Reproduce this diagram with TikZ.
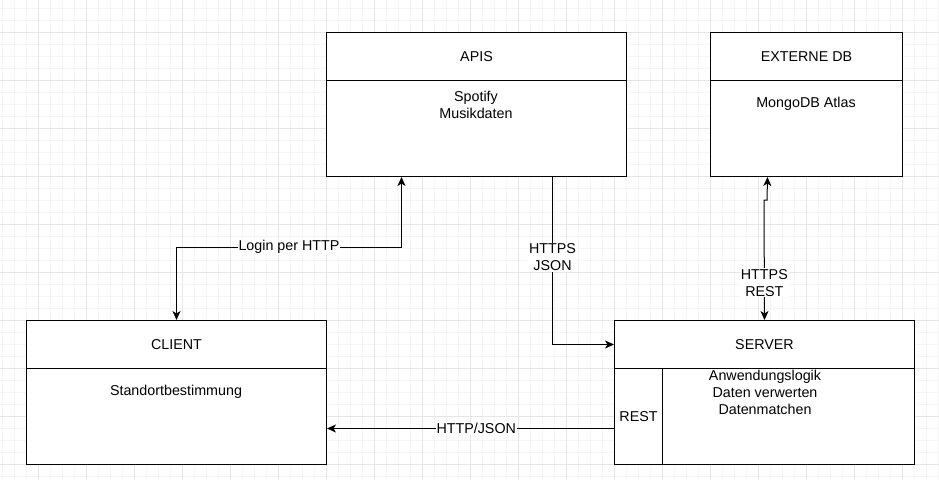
\documentclass[tikz,border=0pt]{standalone}
\usepackage{fontspec}
\setmainfont{Liberation Sans}
\usetikzlibrary{arrows.meta}

\begin{document}
\begin{tikzpicture}[x=1pt, y=-1pt,
    font=\fontsize{14.3}{17}\selectfont,
    >={Stealth[length=9pt, width=8pt, inset=2.5pt]},
    minorgrid/.style={line width=0.8pt, color={rgb,255:red,245; green,245; blue,245}},
    majorgrid/.style={line width=0.8pt, color={rgb,255:red,230; green,230; blue,230}},
    header/.style={draw, line width=1pt, anchor=north west, inner sep=0pt, fill=white, minimum height=48pt},
    body/.style={draw, line width=1pt, anchor=north west, inner sep=0pt, fill=white, minimum height=96pt},
    conn/.style={line width=1pt},
    connlabel/.style={fill=white, inner sep=1pt, align=center}]

        % Background Grid
        \useasboundingbox (0,0) rectangle (939,480);
        \fill[white] (0,0) rectangle (939,480);
        \foreach \x in {2,14,...,938} \draw[minorgrid] (\x,0) -- (\x,480);
        \foreach \y in {8,20,...,476} \draw[minorgrid] (0,\y) -- (939,\y);
        \foreach \x in {38,86,...,902} \draw[majorgrid] (\x,0) -- (\x,480);
        \foreach \y in {32,80,...,464} \draw[majorgrid] (0,\y) -- (939,\y);

        % Boxes
        \node[header, minimum width=300pt] (apis) at (326,32) {APIS};
        \node[body, minimum width=300pt] (apisbody) at (326,80) {};
        \node[header, minimum width=192pt] (extdb) at (710,32) {EXTERNE DB};
        \node[body, minimum width=192pt] (extdbbody) at (710,80) {};
        \node[header, minimum width=300pt] (client) at (26,320) {CLIENT};
        \node[body, minimum width=300pt] (clientbody) at (26,368) {};
        \node[header, minimum width=300pt] (server) at (614,320) {SERVER};
        \node[body, minimum width=252pt] (serverbody) at (662,368) {};
        \node[body, minimum width=48pt] (serverrest) at (614,368) {REST};

        % Box Contents
        \node[align=center] (apistext) at (476,105) {Spotify\\Musikdaten};
        \node (extdbtext) at (806,104) {MongoDB Atlas};
        \node (clienttext) at (176,392) {Standortbestimmung};
        \node[align=center] (servertext) at (765,392) {Anwendungslogik\\Daten verwerten\\Datenmatchen};

        % Connectors
        \coordinate (loginup) at ([xshift=-75pt]apisbody.south);
        \draw[conn, <->] (client.north) -- ++(0,-73) -| node[connlabel, pos=0.25] {Login per HTTP} (loginup);

        \coordinate (jsondown) at ([xshift=76pt]apisbody.south);
        \draw[conn, ->] (jsondown) |- node[connlabel, pos=0.24] {HTTPS\\JSON} (server.west);

        \coordinate (restjog) at (764,200);
        \draw[conn, <->] (server.north) -- node[connlabel, pos=0.31] {HTTPS\\REST} (restjog) -- ++(3,0) -- ([xshift=-39pt]extdbbody.south);

        \draw[conn, ->] ([yshift=-12pt]serverrest.west) -- node[connlabel, pos=0.48] {HTTP/JSON} ([yshift=-12pt]clientbody.east);

    \end{tikzpicture}
\end{document}
